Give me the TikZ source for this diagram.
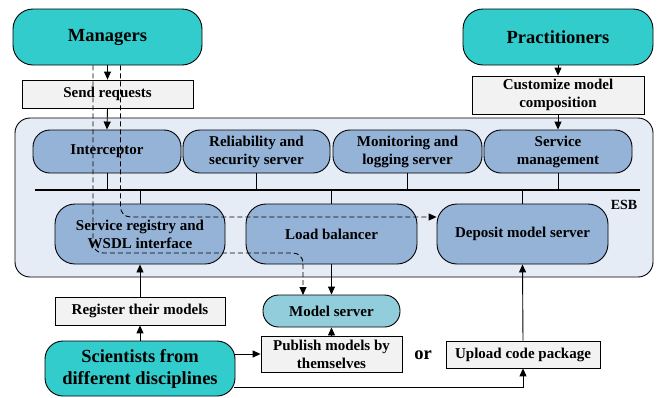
\documentclass[tikz,border=0pt]{standalone}
\usepackage{fontspec}
\setmainfont{Liberation Serif}
\usetikzlibrary{arrows.meta}
\definecolor{tealact}{HTML}{33CCCC}
\definecolor{compblue}{HTML}{95B3D7}
\definecolor{esbbg}{HTML}{E5ECF6}
\definecolor{notegray}{HTML}{F2F2F2}
\definecolor{msblue}{HTML}{92CDDC}
\begin{document}
\begin{tikzpicture}[x=1pt,y=-1pt,
  actorbox/.style={draw, line width=0.9pt, fill=tealact, rounded corners=20pt, inner sep=0pt, align=center,
     font=\fontsize{18.5}{22}\selectfont\bfseries},
  notebox/.style={draw, line width=0.8pt, fill=notegray, inner sep=0pt, align=center,
     font=\fontsize{15}{18}\selectfont\bfseries},
  compbox/.style={draw, line width=0.9pt, fill=compblue, rounded corners=17pt, inner sep=0pt, align=center,
     font=\fontsize{15}{18}\selectfont\bfseries},
  msbox/.style={draw, line width=0.9pt, fill=msblue, rounded corners=15.5pt, inner sep=0pt, align=center,
     font=\fontsize{15}{18}\selectfont\bfseries},
  esbbox/.style={draw, line width=0.9pt, fill=esbbg, rounded corners=15pt, inner sep=0pt},
  arr/.style={line width=0.9pt, -{Triangle[length=8pt,width=7pt]}},
  conn/.style={line width=0.9pt},
  dasharr/.style={line width=0.9pt, dash pattern=on 5pt off 3pt, rounded corners=10pt, -{Triangle[length=8pt,width=7pt]}},
  plaintext/.style={inner sep=0pt, font=\fontsize{15}{18}\selectfont\bfseries}
]
\useasboundingbox (0,0) rectangle (657,397);

% ESB container
\node[esbbox, minimum width=638pt, minimum height=159pt] (esb) at (334,197.5) {};
\node[plaintext, font=\fontsize{14}{16}\selectfont\bfseries] (esblabel) at (624,205) {ESB};

% actors
\node[actorbox, minimum width=189pt, minimum height=56pt] (man) at (107.5,37) {Managers};
\node[actorbox, minimum width=190pt, minimum height=56pt] (prac) at (558,37) {Practitioners};
\node[actorbox, minimum width=190pt, minimum height=55pt, rounded corners=18pt] (sci) at (140,368.5) {Scientists from\\different disciplines};

% note boxes
\node[notebox, minimum width=171pt, minimum height=28pt] (send) at (107.5,94) {Send requests};
\node[notebox, minimum width=172pt, minimum height=38pt] (cust) at (558,95) {Customize model\\composition};
\node[notebox, minimum width=170pt, minimum height=28pt] (regm) at (140,311) {Register their models};
\node[notebox, minimum width=141pt, minimum height=36pt] (pub) at (331.5,354) {Publish models by\\themselves};
\node[notebox, minimum width=154pt, minimum height=27pt] (up) at (523,354.5) {Upload code package};
\node[plaintext, font=\fontsize{18.5}{22}\selectfont\bfseries] (ortext) at (423,355) {or};

% ESB components
\node[compbox, minimum width=148pt, minimum height=43pt] (int) at (107,151.5) {Interceptor};
\node[compbox, minimum width=147pt, minimum height=43pt] (rel) at (256.5,151.5) {Reliability and\\security server};
\node[compbox, minimum width=149pt, minimum height=43pt] (mon) at (407.5,151.5) {Monitoring and\\logging server};
\node[compbox, minimum width=148pt, minimum height=43pt] (smg) at (558,151.5) {Service\\management};
\node[compbox, minimum width=170pt, minimum height=60pt, rounded corners=20pt] (reg) at (140,234) {Service registry and\\WSDL interface};
\node[compbox, minimum width=171pt, minimum height=60pt, rounded corners=20pt] (lb) at (331.5,234) {Load balancer};
\node[compbox, minimum width=171pt, minimum height=60pt, rounded corners=20pt] (dep) at (522.5,234) {Deposit model server};

\node[msbox, minimum width=137pt, minimum height=32pt] (ms) at (331.5,311) {Model server};

% bus
\coordinate (busL) at (35,190);
\coordinate (busR) at (640,190);
\draw[line width=2.2pt] (busL) -- (busR);
\foreach \n in {int,rel,mon,smg}{ \draw[conn] (\n.south) -- (\n.south |- busL); }
\foreach \n in {reg,lb,dep}{ \draw[conn] (\n.north) -- (\n.north |- busL); }

% arrows
\draw[arr] (man.south) -- (send.north);
\draw[arr] (send.south) -- (int.north);
\draw[arr] (prac.south) -- (cust.north);
\draw[arr] (cust.south) -- (smg.north);
\draw[arr] (sci.north) -- (regm.south);
\draw[arr] (regm.north) -- (reg.south);
\draw[arr] (sci.east |- pub.west) -- (pub.west);
\coordinate (scib) at (234,387);
\draw[arr] (scib) -| (up.south);
\draw[arr] (up.north) -- (dep.south);
\draw[arr] (pub.north) -- (ms.south);
\draw[arr] (lb.south) -- (ms.north);

% dashed request flows
\coordinate (d1y) at (0,253);
\coordinate (d1e) at (303,295);
\draw[dasharr] ([xshift=-14.5pt]man.south) |- (d1e |- d1y) -- (d1e);
\coordinate (d2y) at (0,217);
\draw[dasharr] ([xshift=13pt]man.south) |- (dep.west |- d2y);
\end{tikzpicture}
\end{document}
